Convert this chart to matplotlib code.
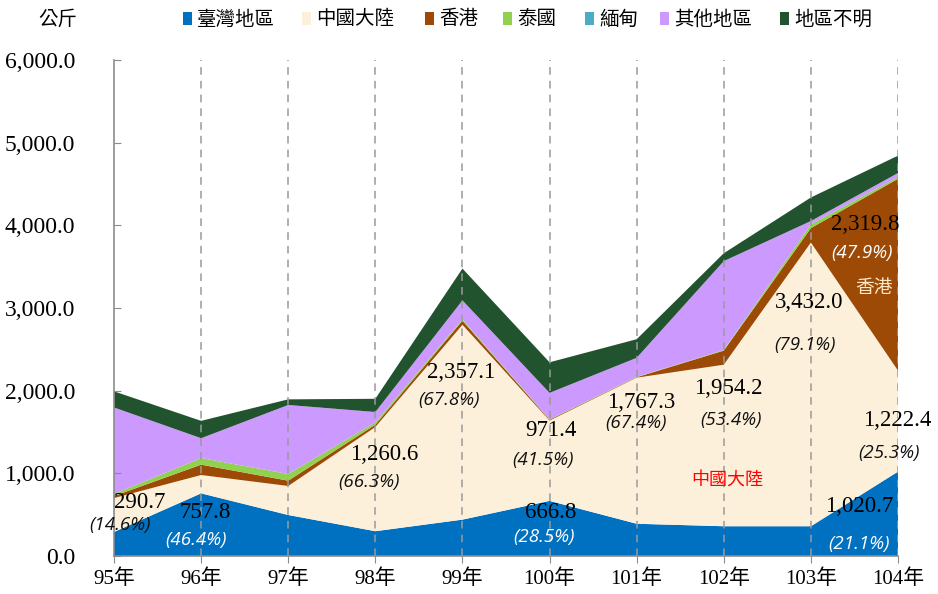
import matplotlib
matplotlib.use("Agg")
import matplotlib.pyplot as plt
from matplotlib.patches import Rectangle

# ---------------- data ----------------
years = [95, 96, 97, 98, 99, 100, 101, 102, 103, 104]
year_labels = ["95年", "96年", "97年", "98年", "99年", "100年", "101年", "102年", "103年", "104年"]
series_names = ["臺灣地區", "中國大陸", "香港", "泰國", "緬甸", "其他地區", "地區不明"]

taiwan   = [290.7, 757.8, 496, 300, 440, 666.8, 390, 360, 360, 1020.7]
china    = [410, 222, 351, 1260.6, 2357.1, 971.4, 1767.3, 1954.2, 3432.0, 1222.4]
hongkong = [25, 125, 64, 28, 50, 10, 5, 170, 175, 2319.8]
thailand = [25, 80, 81, 28, 15, 5, 5, 8, 45, 20]
myanmar  = [0, 0, 0, 0, 0, 0, 0, 0, 0, 0]
other    = [1046, 240, 835, 125, 230, 320, 230, 1075, 40, 50]
unknown  = [195, 210, 68, 160, 385, 370, 225, 95, 285, 210]

colors = ["#0070C0", "#FDF0DA", "#9C4A06", "#92D050", "#4BACC6", "#CC99FF", "#22532F"]

yticks = [0, 1000, 2000, 3000, 4000, 5000, 6000]

# label texts with their pixel centres in the 938x594 picture
value_labels = [
    ("290.7", 140, 502, "black"),
    ("757.8", 205, 513, "black"),
    ("1,260.6", 384, 455, "black"),
    ("2,357.1", 461, 373, "black"),
    ("971.4", 551, 430, "black"),
    ("666.8", 551, 512, "black"),
    ("1,767.3", 641, 402, "black"),
    ("1,954.2", 728, 388, "black"),
    ("3,432.0", 809, 303, "black"),
    ("2,319.8", 865, 224, "black"),
    ("1,222.4", 897, 421, "black"),
    ("1,020.7", 859, 506, "black"),
]
pct_labels = [
    ("(14.6%)", 120, 525, "#111111"),
    ("(46.4%)", 196, 540, "white"),
    ("(66.3%)", 369, 482, "#111111"),
    ("(67.8%)", 449, 400, "#111111"),
    ("(41.5%)", 543, 460, "#111111"),
    ("(28.5%)", 544, 537, "white"),
    ("(67.4%)", 636, 423, "#111111"),
    ("(53.4%)", 731, 420, "#111111"),
    ("(79.1%)", 805, 345, "#111111"),
    ("(47.9%)", 862, 253, "white"),
    ("(25.3%)", 889, 453, "#111111"),
    ("(21.1%)", 859, 544, "white"),
]

W, H = 938, 594

# ---------------- figure ----------------
fig = plt.figure(figsize=(W / 100, H / 100), dpi=100)
ax = fig.add_axes([114 / W, 38 / H, 784 / W, 496 / H])

data = [taiwan, china, hongkong, thailand, myanmar, other, unknown]
ax.stackplot(years, *data, colors=colors, linewidth=0)

ax.set_xlim(years[0], years[-1])
ax.set_ylim(0, 6000)

# vertical dashed grid lines
for x in years[1:]:
    ax.axvline(x, color="#9A9A9A", linestyle=(0, (5, 4)), linewidth=1.1, zorder=5)

ax.set_yticks(yticks)
ax.set_yticklabels([f"{v:,.1f}" for v in yticks],
                   fontdict={"family": ["Liberation Serif"], "size": 17})
ax.set_xticks(years)
ax.set_xticklabels(year_labels, fontdict={"family": ["Liberation Serif", "Noto Sans CJK TC"], "size": 15})
ax.tick_params(axis="y", direction="in", length=5, color="#8C8C8C", pad=28)
ax.tick_params(axis="x", direction="out", length=5, color="#8C8C8C", pad=5)

for s in ["top", "right"]:
    ax.spines[s].set_visible(False)
for s in ["left", "bottom"]:
    ax.spines[s].set_color("#8C8C8C")
    ax.spines[s].set_linewidth(1.2)
    ax.spines[s].set_zorder(6)


def fig_xy(px, py):
    return px / W, 1 - py / H


for t, px, py, c in value_labels:
    fx, fy = fig_xy(px, py)
    fig.text(fx, fy, t, ha="center", va="center", color=c, fontsize=16.5,
             family=["Liberation Serif"], zorder=7)
for t, px, py, c in pct_labels:
    fx, fy = fig_xy(px, py)
    fig.text(fx, fy, t, ha="center", va="center", color=c, fontsize=13.5,
             family=["Open Sans"], style="italic", fontweight="medium", zorder=7)

fx, fy = fig_xy(874, 288)
fig.text(fx, fy, "香港", ha="center", va="center", color="#FDE9C8", fontsize=13.5,
         family=["Noto Sans CJK TC"], zorder=7)
fx, fy = fig_xy(727, 480)
fig.text(fx, fy, "中國大陸", ha="center", va="center", color="#FF0000", fontsize=13,
         family=["Noto Sans CJK TC"], zorder=7)

# unit label and legend row
fx, fy = fig_xy(58, 19)
fig.text(fx, fy, "公斤", ha="center", va="center", fontsize=14, family=["Noto Sans CJK TC"])
legend_x = [183, 302, 425, 503, 585, 660, 780]
for name, col, lx in zip(series_names, colors, legend_x):
    fig.patches.append(Rectangle((lx / W, 1 - 25 / H), 9 / W, 13 / H,
                                 transform=fig.transFigure, facecolor=col, edgecolor="none"))
    fx, fy = fig_xy(lx + 14, 19)
    fig.text(fx, fy, name, ha="left", va="center", fontsize=14, family=["Noto Sans CJK TC"])

fig.savefig("out.png", dpi=100)
